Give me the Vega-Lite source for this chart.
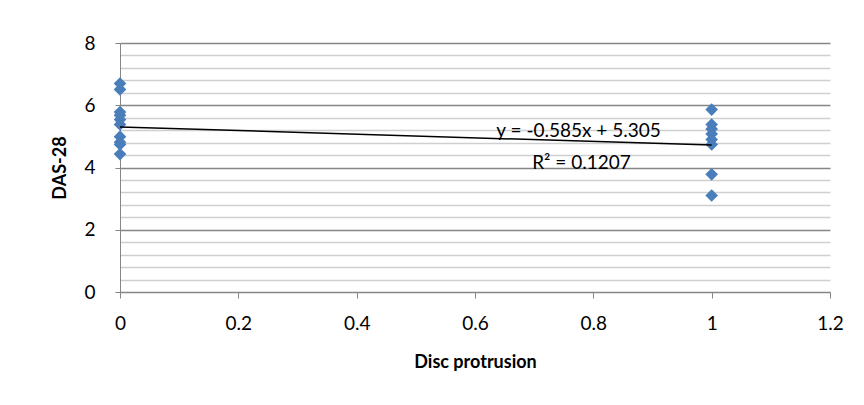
{
  "$schema": "https://vega.github.io/schema/vega-lite/v6.json",
  "width": 710,
  "height": 249,
  "autosize": {"type": "none"},
  "padding": {"left": 120, "top": 43, "right": 34, "bottom": 113},
  "background": "white",
  "config": {
    "view": {"stroke": null},
    "font": "Lato",
    "axis": {"labelFont": "Lato", "titleFont": "Lato", "labelColor": "black", "titleColor": "black"}
  },
  "datasets": {
    "points": [
      {"x": 0, "y": 6.70}, {"x": 0, "y": 6.51}, {"x": 0, "y": 5.78}, {"x": 0, "y": 5.68},
      {"x": 0, "y": 5.54}, {"x": 0, "y": 5.38}, {"x": 0, "y": 4.99}, {"x": 0, "y": 4.81},
      {"x": 0, "y": 4.74}, {"x": 0, "y": 4.43},
      {"x": 1, "y": 5.86}, {"x": 1, "y": 5.38}, {"x": 1, "y": 5.24}, {"x": 1, "y": 5.08},
      {"x": 1, "y": 4.90}, {"x": 1, "y": 4.74}, {"x": 1, "y": 3.78}, {"x": 1, "y": 3.10}
    ],
    "trend": [{"x": 0, "y": 5.305}, {"x": 1, "y": 4.72}],
    "labels": [
      {"x": 0.775, "y": 5.17, "t": "y = -0.585x + 5.305"},
      {"x": 0.78, "y": 4.14, "t": "R² = 0.1207"}
    ]
  },
  "encoding": {
    "x": {
      "field": "x", "type": "quantitative",
      "scale": {"domain": [0, 1.2], "nice": false, "zero": true},
      "axis": {
        "title": "Disc protrusion", "values": [0, 0.2, 0.4, 0.6, 0.8, 1, 1.2], "format": "~g",
        "grid": false, "domainColor": "#868686", "tickColor": "#868686", "tickSize": 6,
        "labelFontSize": 19, "labelPadding": 16, "titleFontSize": 18, "titleFontWeight": "bold",
        "titlePadding": 20, "labelFlush": false, "labelOverlap": false
      }
    },
    "y": {
      "field": "y", "type": "quantitative",
      "scale": {"domain": [0, 8], "nice": false},
      "axis": {
        "title": "DAS-28",
        "values": [0, 0.4, 0.8, 1.2, 1.6, 2, 2.4, 2.8, 3.2, 3.6, 4, 4.4, 4.8, 5.2, 5.6, 6, 6.4, 6.8, 7.2, 7.6, 8],
        "format": "~g",
        "labelOverlap": false,
        "labelExpr": "(datum.value == 0 || datum.value == 2 || datum.value == 4 || datum.value == 6 || datum.value == 8) ? datum.label : ''",
        "grid": true,
        "gridColor": {"condition": {"test": "datum.value == 0 || datum.value == 2 || datum.value == 4 || datum.value == 6 || datum.value == 8", "value": "#868686"}, "value": "#cfcfcf"},
        "gridWidth": 1.4,
        "tickOpacity": {"condition": {"test": "datum.value == 0 || datum.value == 2 || datum.value == 4 || datum.value == 6 || datum.value == 8", "value": 1}, "value": 0},
        "domainColor": "#868686", "tickColor": "#868686", "tickSize": 5,
        "labelFontSize": 19, "labelPadding": 20, "titleFontSize": 18, "titleFontWeight": "bold",
        "titlePadding": 14
      }
    }
  },
  "layer": [
    {
      "data": {"name": "points"},
      "mark": {"type": "point", "shape": "diamond", "filled": true, "color": "#4a7ebb", "opacity": 1, "size": 160}
    },
    {
      "data": {"name": "trend"},
      "mark": {"type": "line", "color": "black", "strokeWidth": 1.5}
    },
    {
      "data": {"name": "labels"},
      "mark": {"type": "text", "fontSize": 19, "font": "Lato", "color": "black", "align": "center", "baseline": "middle"},
      "encoding": {"text": {"field": "t"}}
    }
  ]
}
